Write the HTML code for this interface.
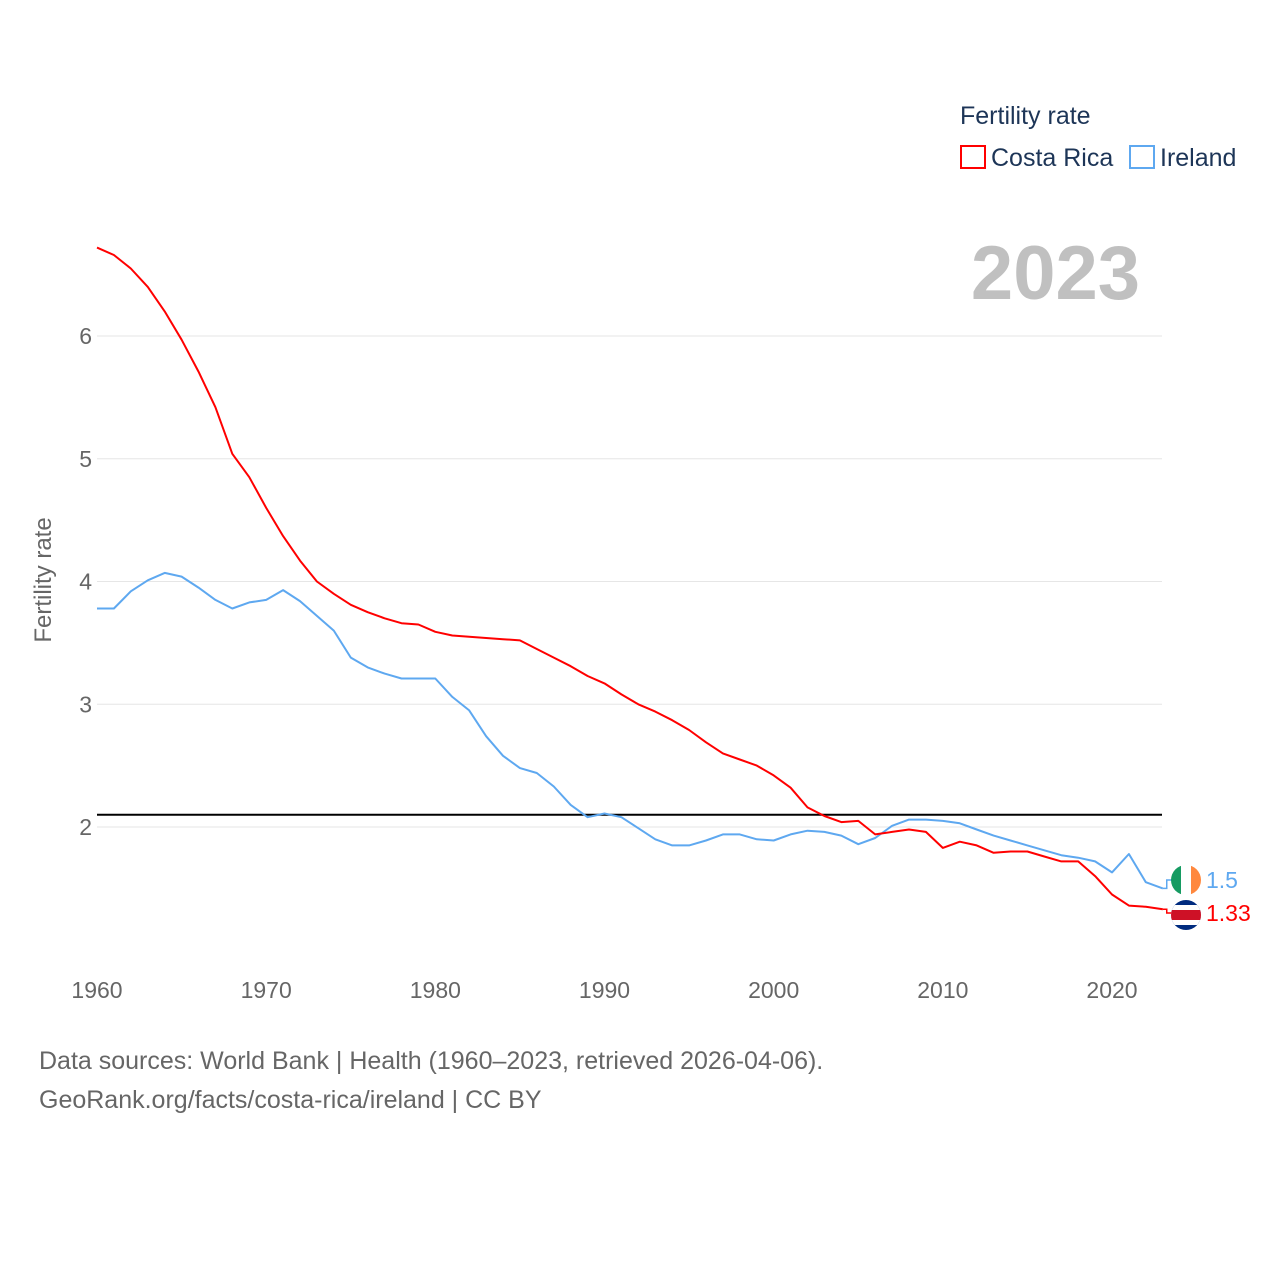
<!DOCTYPE html>
<html><head><meta charset="utf-8"><style>
body{margin:0;background:#fff;font-family:"Liberation Sans",sans-serif}
</style></head><body>
<svg width="1280" height="1280" id="chart" style="font-family:'Liberation Sans',sans-serif">
<rect width="1280" height="1280" fill="#fff"/>
<g id="grid"></g>
<g id="lines"></g>
<text x="960" y="124" font-size="25" fill="#1d3557">Fertility rate</text>
<rect x="961" y="146" width="24" height="22" fill="none" stroke="#ff0000" stroke-width="2"/>
<text x="991" y="166" font-size="25" fill="#1d3557">Costa Rica</text>
<rect x="1130" y="146" width="24" height="22" fill="none" stroke="#5ea8f0" stroke-width="2"/>
<text x="1160" y="166" font-size="25" fill="#1d3557">Ireland</text>
<text x="1140" y="299" font-size="76" font-weight="bold" fill="#c0c0c0" text-anchor="end">2023</text>
<text transform="translate(51,580) rotate(-90)" font-size="24" fill="#666" text-anchor="middle">Fertility rate</text>
<text x="39" y="1069" font-size="25" fill="#666">Data sources: World Bank | Health (1960–2023, retrieved 2026-04-06).</text>
<text x="39" y="1108" font-size="25" fill="#666">GeoRank.org/facts/costa-rica/ireland | CC BY</text>
</svg>
<script>
const years=[];for(let y=1960;y<=2023;y++)years.push(y);
const costaRica=[6.72,6.66,6.55,6.40,6.20,5.97,5.71,5.42,5.04,4.85,4.60,4.37,4.17,4.00,3.90,3.81,3.75,3.70,3.66,3.65,3.59,3.56,3.55,3.54,3.53,3.52,3.45,3.38,3.31,3.23,3.17,3.08,3.00,2.94,2.87,2.79,2.69,2.60,2.55,2.50,2.42,2.32,2.16,2.09,2.04,2.05,1.94,1.96,1.98,1.96,1.83,1.88,1.85,1.79,1.80,1.80,1.76,1.72,1.72,1.60,1.45,1.36,1.35,1.33];
const ireland=[3.78,3.78,3.92,4.01,4.07,4.04,3.95,3.85,3.78,3.83,3.85,3.93,3.84,3.72,3.60,3.38,3.30,3.25,3.21,3.21,3.21,3.06,2.95,2.74,2.58,2.48,2.44,2.33,2.18,2.08,2.11,2.08,1.99,1.90,1.85,1.85,1.89,1.94,1.94,1.90,1.89,1.94,1.97,1.96,1.93,1.86,1.91,2.01,2.06,2.06,2.05,2.03,1.98,1.93,1.89,1.85,1.81,1.77,1.75,1.72,1.63,1.78,1.55,1.50];
const yTicks=[2,3,4,5,6];
const xTicks=[1960,1970,1980,1990,2000,2010,2020];
const replacement=2.1;
const NS="http://www.w3.org/2000/svg";
const X=y=>97+(y-1960)*(1015/60);
const Y=v=>827-(v-2)*122.75;
function mk(tag,attrs,parent,text){const e=document.createElementNS(NS,tag);for(const k in attrs)e.setAttribute(k,attrs[k]);if(text!==undefined)e.textContent=text;parent.appendChild(e);return e;}
const grid=document.getElementById('grid'),lines=document.getElementById('lines');
yTicks.forEach(t=>{
 const l=mk('line',{x1:97,x2:1162,y1:Y(t),y2:Y(t),stroke:'#e6e6e6','stroke-width':1},grid);
 
 
 const tx=mk('text',{x:92,y:Y(t)+8,'font-size':23,fill:'#666','text-anchor':'end'},grid,String(t));
 
 
});
xTicks.forEach(t=>{
 const tx=mk('text',{x:X(t),y:998,'font-size':23,fill:'#666','text-anchor':'middle'},grid,String(t));
 
 
});
const rl=mk('line',{x1:97,x2:1162,y1:Y(replacement),y2:Y(replacement),stroke:'#000','stroke-width':2},lines);


function series(vals,color,name){
 const d=vals.map((v,i)=>(i?'L':'M')+X(years[i]).toFixed(1)+','+Y(v).toFixed(1)).join('');
 const p=mk('path',{d:d,fill:'none',stroke:color,'stroke-width':2,'stroke-linejoin':'round'},lines);
 
 
}
series(ireland,'#5ea8f0','ireland');
series(costaRica,'#ff0000','costa-rica');
// end labels
const lastI=ireland[ireland.length-1],lastC=costaRica[costaRica.length-1];
const xe=X(2023);
const iy=880,cy=913;
mk('path',{d:`M${xe},${Y(lastI)}h4V${iy}h8`,fill:'none',stroke:'#5ea8f0','stroke-width':1.5},lines);
mk('path',{d:`M${xe},${Y(lastC)}h4V${cy}h8`,fill:'none',stroke:'#ff0000','stroke-width':1.5},lines);
// Ireland flag
const fi=mk('g',{},lines);


mk('clipPath',{id:'ci'},fi);mk('circle',{cx:1186,cy:iy,r:15},fi.lastChild);
const gi=mk('g',{'clip-path':'url(#ci)'},fi);
mk('rect',{x:1171,y:iy-15,width:10,height:30,fill:'#169b62'},gi);
mk('rect',{x:1181,y:iy-15,width:10,height:30,fill:'#fff'},gi);
mk('rect',{x:1191,y:iy-15,width:10,height:30,fill:'#ff883e'},gi);
// Costa Rica flag
const fc=mk('g',{},lines);


mk('clipPath',{id:'cc'},fc);mk('circle',{cx:1186,cy:cy+2,r:15},fc.lastChild);
const gc=mk('g',{'clip-path':'url(#cc)'},fc);
mk('rect',{x:1171,y:cy-13,width:30,height:30,fill:'#002b7f'},gc);
mk('rect',{x:1171,y:cy-8,width:30,height:20,fill:'#fff'},gc);
mk('rect',{x:1171,y:cy-3,width:30,height:10,fill:'#ce1126'},gc);
const li=mk('text',{x:1206,y:iy+8,'font-size':23,fill:'#5ea8f0'},lines,String(lastI));


const lc=mk('text',{x:1206,y:cy+8,'font-size':23,fill:'#ff0000'},lines,String(lastC));


</script>
</body></html>
